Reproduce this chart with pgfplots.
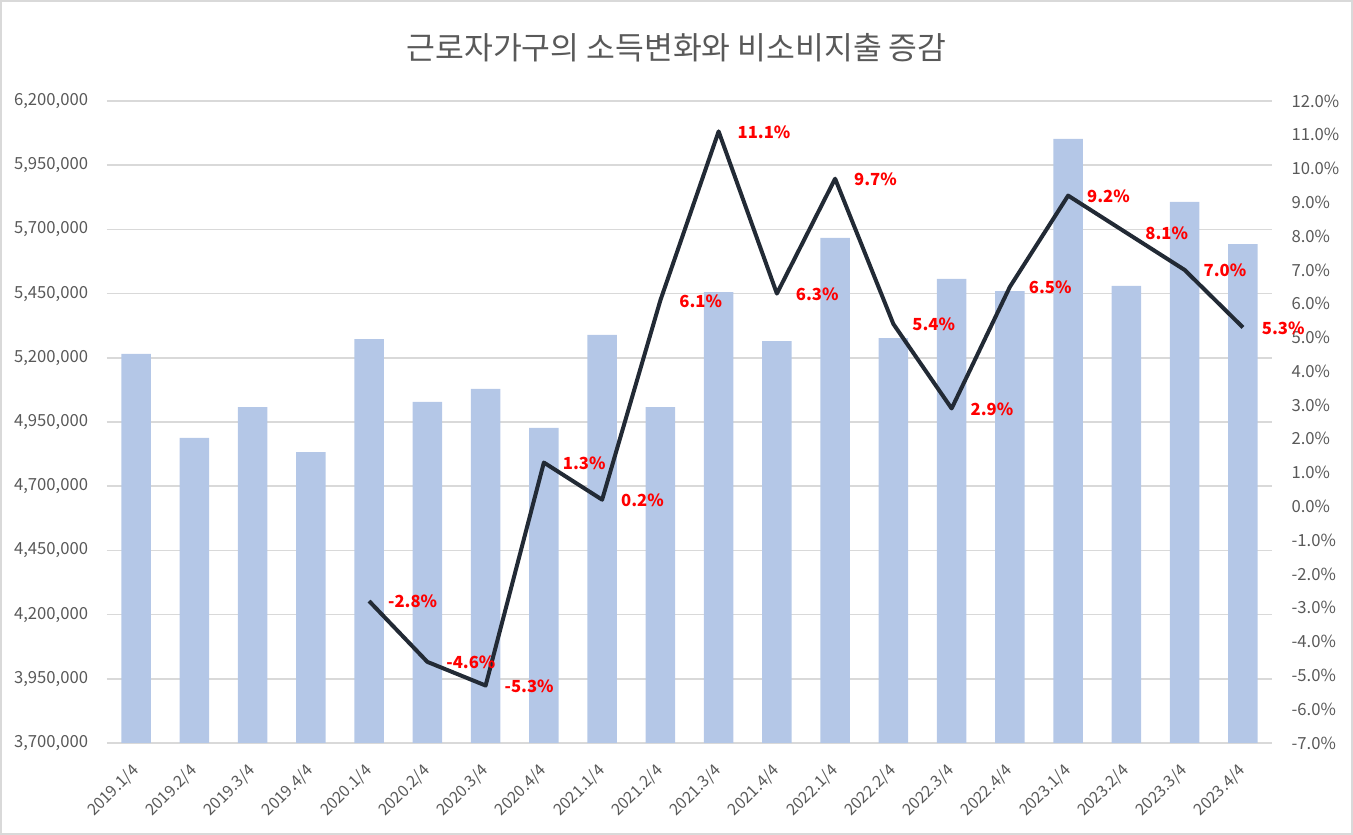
\documentclass[border=0pt]{standalone}
\usepackage{pgfplots}
\pgfplotsset{compat=1.18}
\usepackage{fontspec}
\setmainfont{Noto Sans CJK KR}
\definecolor{barc}{HTML}{B4C7E7}
\definecolor{linec}{HTML}{222A35}
\definecolor{gridc}{HTML}{D9D9D9}
\definecolor{txtc}{HTML}{595959}
\definecolor{lblc}{HTML}{FF0000}
\begin{document}
\begin{tikzpicture}
\useasboundingbox (0,0) rectangle (1014.75pt,626.25pt);
\draw[gridc, line width=1.5pt] (0.75pt,0.75pt) rectangle (1014pt,625.5pt);
\node[text=txtc, font=\fontsize{23.5pt}{28pt}\selectfont] at (507.4pt,590.25pt) {근로자가구의 소득변화와 비소비지출 증감};
\begin{axis}[
  at={(80.25pt,69pt)}, anchor=south west,
  scale only axis, width=873.75pt, height=481.5pt,
  xmin=-0.5, xmax=19.5, ymin=3700000, ymax=6200000,
  scaled y ticks=false,
  axis line style={draw=none},
  major tick length=0,
  ytick={3700000,3950000,4200000,4450000,4700000,4950000,5200000,5450000,5700000,5950000,6200000},
  yticklabels={{3,700,000},{3,950,000},{4,200,000},{4,450,000},{4,700,000},{4,950,000},{5,200,000},{5,450,000},{5,700,000},{5,950,000},{6,200,000}},
  ymajorgrids, grid style={gridc, line width=1.2pt},
  xtick={0,...,19},
  xticklabels={2019.1/4,2019.2/4,2019.3/4,2019.4/4,2020.1/4,2020.2/4,2020.3/4,2020.4/4,2021.1/4,2021.2/4,2021.3/4,2021.4/4,2022.1/4,2022.2/4,2022.3/4,2022.4/4,2023.1/4,2023.2/4,2023.3/4,2023.4/4},
  tick label style={text=txtc, font=\fontsize{12.5pt}{15pt}\selectfont, inner sep=0pt},
  yticklabel style={anchor=east, xshift=-14pt},
  xticklabel style={yshift=-18.75pt, rotate=45, anchor=east, font=\fontsize{12pt}{14pt}\selectfont},
]
\addplot[ybar, bar width=0.51, fill=barc, draw=none] coordinates {
(0,5215000) (1,4888000) (2,5008000) (3,4833000) (4,5273000)
(5,5028000) (6,5079000) (7,4927000) (8,5289000) (9,5008000)
(10,5456000) (11,5265000) (12,5667000) (13,5277000) (14,5507000)
(15,5460000) (16,6052000) (17,5480000) (18,5807000) (19,5643000)
};
\end{axis}
\begin{axis}[
  at={(80.25pt,69pt)}, anchor=south west,
  scale only axis, width=873.75pt, height=481.5pt,
  xmin=-0.5, xmax=19.5, ymin=-7, ymax=12,
  axis line style={draw=none},
  major tick length=0,
  xtick=\empty,
  axis y line*=right,
  ytick={-7,...,12},
  yticklabels={-7.0\%,-6.0\%,-5.0\%,-4.0\%,-3.0\%,-2.0\%,-1.0\%,0.0\%,1.0\%,2.0\%,3.0\%,4.0\%,5.0\%,6.0\%,7.0\%,8.0\%,9.0\%,10.0\%,11.0\%,12.0\%},
  tick label style={text=txtc, font=\fontsize{12.5pt}{15pt}\selectfont, inner sep=0pt},
  yticklabel style={anchor=west, xshift=14.5pt},
]
\addplot[linec, line width=3pt, line join=round, no marks,
  nodes near coords, point meta=explicit symbolic,
  every node near coord/.style={anchor=west, inner sep=0pt, xshift=12.75pt, yshift=-0.5pt, text=lblc, font=\fontsize{12.5pt}{15pt}\selectfont\bfseries}]
table[meta=lbl] {
x y lbl
4 -2.8 -2.8\%
5 -4.6 -4.6\%
6 -5.3 -5.3\%
7 1.3 1.3\%
8 0.2 0.2\%
9 6.1 6.1\%
10 11.1 11.1\%
11 6.3 6.3\%
12 9.7 9.7\%
13 5.4 5.4\%
14 2.9 2.9\%
15 6.5 6.5\%
16 9.2 9.2\%
17 8.1 8.1\%
18 7.0 7.0\%
19 5.3 5.3\%
};
\end{axis}
\end{tikzpicture}
\end{document}
